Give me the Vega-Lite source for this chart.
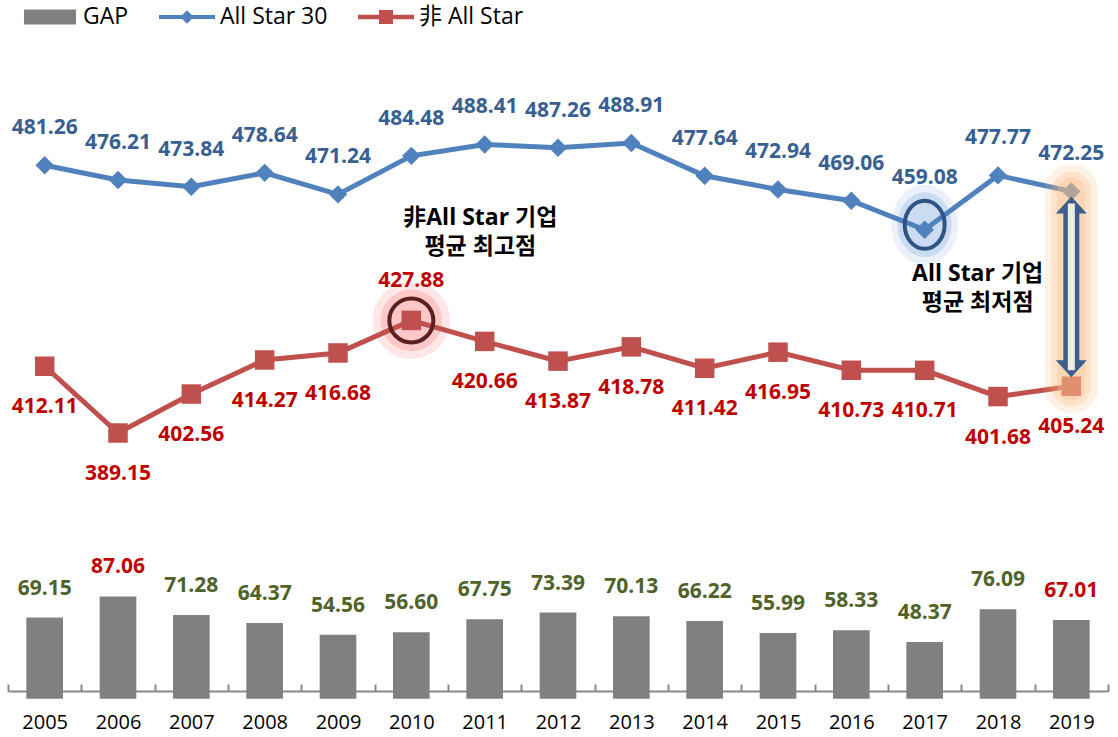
{
  "$schema": "https://vega.github.io/schema/vega-lite/v6.json",
  "autosize": "none",
  "width": 1100,
  "height": 691,
  "padding": {"left": 8, "top": 0, "right": 10, "bottom": 46},
  "background": "white",
  "config": {"view": {"stroke": null}, "font": "Open Sans, Noto Sans CJK KR"},
  "data": {"values": [
    {"year": "2005", "allstar": 481.26, "nonallstar": 412.11, "gap": 69.15},
    {"year": "2006", "allstar": 476.21, "nonallstar": 389.15, "gap": 87.06},
    {"year": "2007", "allstar": 473.84, "nonallstar": 402.56, "gap": 71.28},
    {"year": "2008", "allstar": 478.64, "nonallstar": 414.27, "gap": 64.37},
    {"year": "2009", "allstar": 471.24, "nonallstar": 416.68, "gap": 54.56},
    {"year": "2010", "allstar": 484.48, "nonallstar": 427.88, "gap": 56.60},
    {"year": "2011", "allstar": 488.41, "nonallstar": 420.66, "gap": 67.75},
    {"year": "2012", "allstar": 487.26, "nonallstar": 413.87, "gap": 73.39},
    {"year": "2013", "allstar": 488.91, "nonallstar": 418.78, "gap": 70.13},
    {"year": "2014", "allstar": 477.64, "nonallstar": 411.42, "gap": 66.22},
    {"year": "2015", "allstar": 472.94, "nonallstar": 416.95, "gap": 55.99},
    {"year": "2016", "allstar": 469.06, "nonallstar": 410.73, "gap": 58.33},
    {"year": "2017", "allstar": 459.08, "nonallstar": 410.71, "gap": 48.37},
    {"year": "2018", "allstar": 477.77, "nonallstar": 401.68, "gap": 76.09},
    {"year": "2019", "allstar": 472.25, "nonallstar": 405.24, "gap": 67.01}
  ]},
  "encoding": {
    "x": {
      "field": "year", "type": "ordinal",
      "scale": {"type": "band", "paddingInner": 0, "paddingOuter": 0},
      "axis": {
        "title": null, "labelAngle": 0, "labelFontSize": 20, "labelColor": "#000000",
        "labelFont": "Open Sans", "labelPadding": 28,
        "domainColor": "#898989", "domainWidth": 2,
        "tickColor": "#898989", "tickWidth": 2, "tickSize": -7, "tickBand": "extent",
        "grid": false
      }
    }
  },
  "layer": [
    {
      "mark": {"type": "bar", "color": "#808080", "width": {"band": 0.5}},
      "encoding": {"y": {"field": "gap", "type": "quantitative", "scale": {"domain": [6.6, 594.7], "zero": false, "nice": false}, "axis": null}}
    },
    {
      "mark": {"type": "text", "dy": -29, "fontSize": 21, "fontWeight": "bold", "baseline": "middle", "font": "Open Sans"},
      "encoding": {
        "y": {"field": "gap", "type": "quantitative", "scale": {"domain": [6.6, 594.7], "zero": false, "nice": false}, "axis": null},
        "text": {"field": "gap", "type": "quantitative", "format": ".2f"},
        "color": {"condition": {"test": "datum.year === '2006' || datum.year === '2019'", "value": "#C00000"}, "value": "#4F6228"}
      }
    },
    {
      "transform": [{"filter": "datum.year === '2017'"}],
      "mark": {"type": "point", "shape": "M0,-1A0.833,1 0 1,1 0,1A0.833,1 0 1,1 0,-1Z", "filled": true, "color": "#8DB4E2", "opacity": 0.18, "size": 6400, "yOffset": -5},
      "encoding": {"y": {"field": "allstar", "type": "quantitative", "scale": {"domain": [300.4, 538.1], "zero": false, "nice": false}, "axis": null}}
    },
    {
      "transform": [{"filter": "datum.year === '2017'"}],
      "mark": {"type": "point", "shape": "M0,-1A0.833,1 0 1,1 0,1A0.833,1 0 1,1 0,-1Z", "filled": true, "color": "#6FA0DC", "opacity": 0.25, "size": 4200, "yOffset": -5},
      "encoding": {"y": {"field": "allstar", "type": "quantitative", "scale": {"domain": [300.4, 538.1], "zero": false, "nice": false}, "axis": null}}
    },
    {
      "transform": [{"filter": "datum.year === '2010'"}],
      "mark": {"type": "point", "shape": "circle", "filled": true, "color": "#FF7C80", "opacity": 0.18, "size": 6000},
      "encoding": {"y": {"field": "nonallstar", "type": "quantitative", "scale": {"domain": [300.4, 538.1], "zero": false, "nice": false}, "axis": null}}
    },
    {
      "transform": [{"filter": "datum.year === '2010'"}],
      "mark": {"type": "point", "shape": "circle", "filled": true, "color": "#FF6666", "opacity": 0.25, "size": 3800},
      "encoding": {"y": {"field": "nonallstar", "type": "quantitative", "scale": {"domain": [300.4, 538.1], "zero": false, "nice": false}, "axis": null}}
    },
    {
      "transform": [{"fold": ["allstar", "nonallstar"], "as": ["series", "val"]}],
      "mark": {"type": "line", "strokeWidth": 5},
      "encoding": {
        "y": {"field": "val", "type": "quantitative", "scale": {"domain": [300.4, 538.1], "zero": false, "nice": false}, "axis": null},
        "color": {
          "field": "series", "type": "nominal",
          "scale": {"domain": ["gap", "allstar", "nonallstar"], "range": ["#808080", "#4F81BD", "#C0504D"]},
          "legend": {
            "title": null, "orient": "none", "legendX": 14, "legendY": -11, "direction": "horizontal",
            "padding": 0, "symbolSize": 3136, "labelFontSize": 23, "labelFont": "Open Sans, Noto Sans CJK KR",
            "labelColor": "#000000", "labelOffset": 5, "columnPadding": 30, "symbolStrokeWidth": 0,
            "labelExpr": "datum.value === 'gap' ? 'GAP' : datum.value === 'allstar' ? 'All Star 30' : '非 All Star'",
            "encode": {"symbols": {"update": {
              "shape": {"signal": "datum.value === 'gap' ? 'M-0.93,-0.27H0.93V0.27H-0.93Z' : datum.value === 'allstar' ? 'M-1,-0.07H1V0.07H-1Z M0,-0.24L0.24,0L0,0.24L-0.24,0Z' : 'M-1,-0.08H1V0.08H-1Z M-0.25,-0.25H0.25V0.25H-0.25Z'"},
              "fill": {"scale": "color", "field": "value"},
              "stroke": {"value": "transparent"},
              "opacity": {"value": 1}
            }}}
          }
        }
      }
    },
    {
      "mark": {"type": "point", "shape": "diamond", "filled": true, "color": "#4F81BD", "opacity": 1, "size": 340},
      "encoding": {"y": {"field": "allstar", "type": "quantitative", "scale": {"domain": [300.4, 538.1], "zero": false, "nice": false}, "axis": null}}
    },
    {
      "mark": {"type": "point", "shape": "square", "filled": true, "color": "#C0504D", "opacity": 1, "size": 380},
      "encoding": {"y": {"field": "nonallstar", "type": "quantitative", "scale": {"domain": [300.4, 538.1], "zero": false, "nice": false}, "axis": null}}
    },
    {
      "transform": [{"filter": "datum.year === '2010'"}],
      "mark": {"type": "point", "shape": "circle", "filled": false, "color": "#5A1F1F", "strokeWidth": 4, "opacity": 1, "size": 1936},
      "encoding": {"y": {"field": "nonallstar", "type": "quantitative", "scale": {"domain": [300.4, 538.1], "zero": false, "nice": false}, "axis": null}}
    },
    {
      "transform": [{"filter": "datum.year === '2017'"}],
      "mark": {"type": "point", "shape": "M0,-1A0.833,1 0 1,1 0,1A0.833,1 0 1,1 0,-1Z", "filled": false, "color": "#2F5383", "strokeWidth": 4, "opacity": 1, "size": 2304, "yOffset": -5},
      "encoding": {"y": {"field": "allstar", "type": "quantitative", "scale": {"domain": [300.4, 538.1], "zero": false, "nice": false}, "axis": null}}
    },
    {
      "transform": [{"filter": "datum.year === '2019'"}],
      "mark": {"type": "rule", "color": "#F9B574", "strokeWidth": 54, "strokeCap": "round", "opacity": 0.18},
      "encoding": {
        "y": {"field": "allstar", "type": "quantitative", "scale": {"domain": [300.4, 538.1], "zero": false, "nice": false}, "axis": null},
        "y2": {"field": "nonallstar"}
      }
    },
    {
      "transform": [{"filter": "datum.year === '2019'"}],
      "mark": {"type": "rule", "color": "#F9B574", "strokeWidth": 40, "strokeCap": "round", "opacity": 0.25},
      "encoding": {
        "y": {"field": "allstar", "type": "quantitative", "scale": {"domain": [300.4, 538.1], "zero": false, "nice": false}, "axis": null},
        "y2": {"field": "nonallstar"}
      }
    },
    {
      "transform": [{"filter": "datum.year === '2019'"}],
      "mark": {"type": "rule", "color": "#FAC090", "strokeWidth": 28, "strokeCap": "round", "opacity": 0.35},
      "encoding": {
        "y": {"field": "allstar", "type": "quantitative", "scale": {"domain": [300.4, 538.1], "zero": false, "nice": false}, "axis": null},
        "y2": {"field": "nonallstar"}
      }
    },
    {
      "transform": [{"filter": "datum.year === '2019'"}],
      "mark": {"type": "rule", "color": "#3B5E8C", "strokeWidth": 16, "yOffset": 18, "y2Offset": -20},
      "encoding": {
        "y": {"field": "allstar", "type": "quantitative", "scale": {"domain": [300.4, 538.1], "zero": false, "nice": false}, "axis": null},
        "y2": {"field": "nonallstar"}
      }
    },
    {
      "transform": [{"filter": "datum.year === '2019'"}],
      "mark": {"type": "point", "shape": "M0,-0.55L1,0.55L-1,0.55Z", "filled": true, "color": "#3B5E8C", "opacity": 1, "size": 961, "yOffset": 13.5},
      "encoding": {"y": {"field": "allstar", "type": "quantitative", "scale": {"domain": [300.4, 538.1], "zero": false, "nice": false}, "axis": null}}
    },
    {
      "transform": [{"filter": "datum.year === '2019'"}],
      "mark": {"type": "point", "shape": "M0,0.55L1,-0.55L-1,-0.55Z", "filled": true, "color": "#3B5E8C", "opacity": 1, "size": 961, "yOffset": -17.5},
      "encoding": {"y": {"field": "nonallstar", "type": "quantitative", "scale": {"domain": [300.4, 538.1], "zero": false, "nice": false}, "axis": null}}
    },
    {
      "transform": [{"filter": "datum.year === '2019'"}],
      "mark": {"type": "rule", "color": "#EEECE1", "strokeWidth": 7, "yOffset": 12, "y2Offset": -16},
      "encoding": {
        "y": {"field": "allstar", "type": "quantitative", "scale": {"domain": [300.4, 538.1], "zero": false, "nice": false}, "axis": null},
        "y2": {"field": "nonallstar"}
      }
    },
    {
      "transform": [{"filter": "datum.year !== '2017'"}],
      "mark": {"type": "text", "dy": -37, "fontSize": 21, "fontWeight": "bold", "baseline": "middle", "color": "#376092", "font": "Open Sans"},
      "encoding": {
        "y": {"field": "allstar", "type": "quantitative", "scale": {"domain": [300.4, 538.1], "zero": false, "nice": false}, "axis": null},
        "text": {"field": "allstar", "type": "quantitative", "format": ".2f"}
      }
    },
    {
      "transform": [{"filter": "datum.year === '2017'"}],
      "mark": {"type": "text", "dy": -52, "fontSize": 21, "fontWeight": "bold", "baseline": "middle", "color": "#376092", "font": "Open Sans"},
      "encoding": {
        "y": {"field": "allstar", "type": "quantitative", "scale": {"domain": [300.4, 538.1], "zero": false, "nice": false}, "axis": null},
        "text": {"field": "allstar", "type": "quantitative", "format": ".2f"}
      }
    },
    {
      "transform": [{"filter": "datum.year !== '2010'"}],
      "mark": {"type": "text", "dy": 41, "fontSize": 21, "fontWeight": "bold", "baseline": "middle", "color": "#C00000", "font": "Open Sans"},
      "encoding": {
        "y": {"field": "nonallstar", "type": "quantitative", "scale": {"domain": [300.4, 538.1], "zero": false, "nice": false}, "axis": null},
        "text": {"field": "nonallstar", "type": "quantitative", "format": ".2f"}
      }
    },
    {
      "transform": [{"filter": "datum.year === '2010'"}],
      "mark": {"type": "text", "dy": -39, "fontSize": 21, "fontWeight": "bold", "baseline": "middle", "color": "#C00000", "font": "Open Sans"},
      "encoding": {
        "y": {"field": "nonallstar", "type": "quantitative", "scale": {"domain": [300.4, 538.1], "zero": false, "nice": false}, "axis": null},
        "text": {"field": "nonallstar", "type": "quantitative", "format": ".2f"}
      }
    },
    {
      "transform": [{"filter": "datum.year === '2010'"}],
      "mark": {"type": "text", "text": ["非All Star 기업", "평균 최고점"], "lineHeight": 29, "dx": 69, "dy": -102, "fontSize": 23, "fontWeight": "bold", "baseline": "middle", "color": "#000000", "font": "Open Sans, Noto Sans CJK KR"},
      "encoding": {
        "y": {"field": "nonallstar", "type": "quantitative", "scale": {"domain": [300.4, 538.1], "zero": false, "nice": false}, "axis": null}
      }
    },
    {
      "transform": [{"filter": "datum.year === '2017'"}],
      "mark": {"type": "text", "text": ["All Star 기업", "평균 최저점"], "lineHeight": 29, "dx": 53, "dy": 44, "fontSize": 23, "fontWeight": "bold", "baseline": "middle", "color": "#000000", "font": "Open Sans, Noto Sans CJK KR"},
      "encoding": {
        "y": {"field": "allstar", "type": "quantitative", "scale": {"domain": [300.4, 538.1], "zero": false, "nice": false}, "axis": null}
      }
    }
  ],
  "resolve": {"scale": {"y": "independent"}}
}
